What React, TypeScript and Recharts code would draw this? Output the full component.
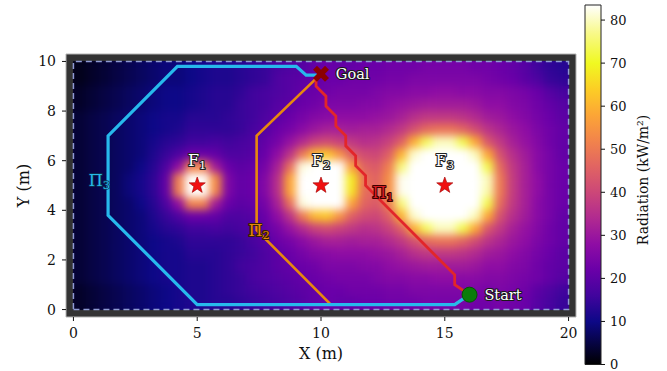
import { ScatterChart, Scatter, XAxis, YAxis, CartesianGrid, ReferenceArea } from 'recharts';

const FONT = '"DejaVu Serif", serif';

// centres of the radiation grid cells (m)
const xCells = [0.25, 0.75, 1.25, 1.75, 2.25, 2.75, 3.25, 3.75, 4.25, 4.75, 5.25, 5.75, 6.25, 6.75, 7.25, 7.75, 8.25, 8.75, 9.25, 9.75, 10.25, 10.75, 11.25, 11.75, 12.25, 12.75, 13.25, 13.75, 14.25, 14.75, 15.25, 15.75, 16.25, 16.75, 17.25, 17.75, 18.25, 18.75, 19.25, 19.75];
const yCells = [9.75, 9.25, 8.75, 8.25, 7.75, 7.25, 6.75, 6.25, 5.75, 5.25, 4.75, 4.25, 3.75, 3.25, 2.75, 2.25, 1.75, 1.25, 0.75, 0.25];

// radiation (kW/m2), one row per yCells entry
const radiation = [
  [2, 3, 4, 5, 6, 7, 8, 9, 9, 10, 11, 12, 12, 13, 14, 15, 17, 18, 19, 21, 22, 21, 21, 22, 22, 23, 23, 23, 24, 24, 24, 24, 23, 23, 22, 21, 19, 16, 14, 13],
  [2, 3, 4, 5, 6, 7, 8, 9, 9, 10, 11, 12, 12, 13, 14, 15, 18, 19, 20, 21, 22, 22, 23, 23, 23, 24, 24, 25, 25, 25, 25, 25, 25, 24, 23, 22, 20, 18, 15, 14],
  [3, 4, 5, 6, 7, 8, 9, 10, 10, 11, 12, 13, 13, 14, 16, 17, 18, 19, 21, 22, 23, 24, 24, 24, 25, 26, 26, 27, 27, 28, 28, 27, 27, 26, 26, 25, 24, 22, 19, 17],
  [3, 4, 5, 6, 7, 8, 9, 10, 10, 11, 12, 13, 13, 15, 16, 17, 19, 20, 22, 23, 25, 25, 25, 26, 26, 28, 29, 30, 31, 31, 31, 31, 30, 28, 28, 26, 25, 23, 21, 19],
  [4, 5, 6, 7, 8, 9, 10, 11, 11, 13, 13, 13, 14, 15, 16, 18, 20, 22, 24, 26, 27, 28, 28, 28, 29, 30, 32, 35, 37, 37, 37, 36, 34, 31, 30, 28, 26, 24, 22, 20],
  [4, 5, 6, 7, 8, 9, 10, 11, 12, 14, 14, 14, 14, 15, 17, 19, 22, 24, 27, 30, 32, 32, 31, 32, 32, 34, 37, 42, 47, 49, 49, 46, 41, 36, 33, 30, 28, 25, 23, 21],
  [4, 5, 6, 7, 8, 9, 11, 13, 14, 16, 16, 17, 16, 17, 18, 21, 24, 29, 34, 39, 41, 39, 37, 35, 36, 39, 45, 59, 74, 80, 80, 73, 58, 43, 37, 32, 29, 26, 23, 21],
  [4, 5, 6, 7, 8, 9, 12, 15, 18, 22, 22, 21, 18, 18, 19, 22, 28, 36, 50, 61, 63, 55, 45, 41, 40, 45, 60, 81, 97, 96, 96, 96, 80, 58, 42, 35, 31, 27, 24, 21],
  [4, 5, 6, 7, 8, 10, 13, 18, 28, 52, 52, 31, 22, 20, 21, 24, 32, 48, 82, 97, 99, 87, 57, 46, 44, 51, 76, 98, 97, 96, 96, 96, 96, 73, 47, 37, 32, 27, 24, 22],
  [4, 5, 6, 7, 9, 11, 14, 21, 51, 92, 93, 54, 25, 21, 22, 26, 35, 58, 95, 97, 99, 100, 68, 49, 46, 54, 83, 98, 97, 97, 96, 96, 96, 80, 50, 38, 32, 28, 24, 22],
  [4, 5, 6, 7, 9, 11, 14, 21, 51, 93, 92, 53, 25, 21, 22, 26, 35, 58, 95, 97, 99, 99, 67, 48, 46, 54, 83, 98, 97, 97, 96, 96, 96, 79, 50, 38, 32, 28, 24, 22],
  [4, 5, 6, 7, 8, 10, 13, 18, 28, 52, 52, 31, 22, 20, 21, 24, 32, 48, 82, 97, 99, 87, 57, 46, 44, 51, 76, 98, 97, 96, 96, 96, 96, 73, 47, 37, 32, 27, 24, 22],
  [4, 5, 6, 7, 8, 9, 12, 15, 18, 22, 22, 21, 18, 18, 19, 22, 28, 36, 50, 61, 63, 55, 45, 41, 40, 45, 60, 81, 97, 96, 96, 96, 80, 58, 42, 35, 31, 27, 24, 21],
  [4, 5, 6, 7, 8, 9, 11, 13, 14, 16, 16, 17, 16, 17, 18, 21, 24, 29, 34, 39, 41, 39, 37, 35, 36, 39, 45, 59, 74, 80, 80, 73, 58, 43, 37, 32, 29, 26, 23, 21],
  [4, 5, 6, 7, 8, 9, 10, 11, 12, 14, 14, 14, 14, 15, 17, 19, 22, 24, 27, 30, 32, 32, 31, 32, 32, 34, 37, 42, 47, 49, 49, 46, 41, 36, 33, 30, 28, 25, 23, 21],
  [4, 5, 6, 7, 8, 9, 10, 11, 11, 13, 13, 13, 14, 15, 16, 18, 20, 22, 24, 26, 27, 28, 28, 28, 29, 30, 32, 35, 37, 37, 37, 36, 34, 31, 30, 28, 26, 24, 22, 20],
  [4, 5, 6, 7, 8, 9, 10, 11, 11, 12, 12, 13, 14, 16, 17, 18, 20, 21, 22, 23, 25, 25, 25, 26, 26, 28, 29, 30, 31, 31, 31, 31, 30, 28, 28, 26, 25, 23, 21, 20],
  [4, 5, 6, 7, 8, 9, 10, 11, 11, 12, 12, 13, 14, 15, 17, 18, 19, 20, 21, 22, 23, 24, 24, 24, 25, 26, 26, 27, 27, 28, 28, 27, 27, 26, 26, 25, 24, 23, 21, 19],
  [3, 4, 5, 6, 7, 8, 9, 10, 11, 12, 12, 13, 14, 15, 16, 17, 18, 19, 20, 21, 22, 22, 23, 23, 23, 24, 24, 25, 25, 25, 25, 25, 25, 24, 25, 24, 23, 20, 18, 16],
  [3, 4, 5, 6, 7, 8, 9, 10, 11, 12, 12, 13, 13, 14, 15, 16, 17, 18, 19, 21, 22, 21, 21, 22, 22, 23, 23, 23, 24, 24, 24, 24, 23, 23, 24, 23, 22, 19, 17, 15],
];

const fires = [{ x: 5, y: 5 }, { x: 10, y: 5 }, { x: 15, y: 5 }];
const fireLabels = [
  { x: 5, y: 6.0, name: 'F', sub: '1' },
  { x: 10, y: 6.0, name: 'F', sub: '2' },
  { x: 15, y: 6.0, name: 'F', sub: '3' },
];
const goal = [{ x: 10, y: 9.5 }];
const start = [{ x: 16, y: 0.6 }];
const goalLabel = [{ x: 10.6, y: 9.5, name: 'Goal' }];
const startLabel = [{ x: 16.6, y: 0.58, name: 'Start' }];

// planned paths
const path1 = [
  { x: 10, y: 9.5 }, { x: 9.8, y: 9.3 }, { x: 9.8, y: 9.0 }, { x: 10.2, y: 8.6 }, { x: 10.2, y: 8.2 },
  { x: 10.6, y: 7.8 }, { x: 10.6, y: 7.4 }, { x: 11.0, y: 7.0 }, { x: 11.0, y: 6.6 }, { x: 11.4, y: 6.2 },
  { x: 11.4, y: 5.8 }, { x: 11.8, y: 5.4 }, { x: 11.8, y: 5.0 }, { x: 15.4, y: 1.4 }, { x: 15.4, y: 1.0 },
  { x: 16, y: 0.6 },
];
const path2 = [
  { x: 10, y: 9.5 }, { x: 7.4, y: 7.0 }, { x: 7.4, y: 3.2 }, { x: 10.4, y: 0.2 }, { x: 15.4, y: 0.2 }, { x: 16, y: 0.6 },
];
const path3 = [
  { x: 16, y: 0.6 }, { x: 15.4, y: 0.2 }, { x: 5.0, y: 0.2 }, { x: 1.4, y: 3.8 }, { x: 1.4, y: 7.0 },
  { x: 4.2, y: 9.8 }, { x: 9.0, y: 9.8 }, { x: 9.4, y: 9.45 }, { x: 10, y: 9.45 },
];
const pathLabels1 = [{ x: 12.5, y: 4.7, name: 'Π', sub: '1' }];
const pathLabels2 = [{ x: 7.5, y: 3.2, name: 'Π', sub: '2' }];
const pathLabels3 = [{ x: 1.05, y: 5.2, name: 'Π', sub: '3' }];
const boundary = [{ x: 0, y: 0 }, { x: 20, y: 0 }, { x: 20, y: 10 }, { x: 0, y: 10 }, { x: 0, y: 0 }];

const xTicks = [0, 5, 10, 15, 20];
const yTicks = [0, 2, 4, 6, 8, 10];
const cbarTicks = [0, 10, 20, 30, 40, 50, 60, 70, 80];
const cbarMax = 83.5;

// black -> plasma -> white
const cmapValues = [0, 10, 16, 22, 28, 34, 40, 46, 52, 58, 64, 70, 77, 84];
const cmapColors = ['#000000', '#0d0887', '#41049d', '#6a00a8', '#8f0da4', '#b12a90', '#cc4778', '#e16462', '#f2844b', '#fca636', '#fcce25', '#f0f921', '#f8f98a', '#ffffff'];

const X_DOMAIN: [number, number] = [-0.3, 20.3];
const Y_DOMAIN: [number, number] = [-0.3, 10.3];
const PLOT_W = 510;
const PLOT_H = 263;
const CELL = 0.5;

const heatCells = radiation.flatMap((row, r) => row.map((v, c) => ({ x: xCells[c], y: yCells[r], v })));

const hex = (h: string) => [1, 3, 5].map((i) => parseInt(h.slice(i, i + 2), 16));
function colorOf(v: number) {
  if (v <= cmapValues[0]) return cmapColors[0];
  for (let i = 1; i < cmapValues.length; i++) {
    if (v <= cmapValues[i]) {
      const t = (v - cmapValues[i - 1]) / (cmapValues[i] - cmapValues[i - 1]);
      const a = hex(cmapColors[i - 1]);
      const b = hex(cmapColors[i]);
      const m = a.map((c, k) => Math.round(c + (b[k] - c) * t));
      return `rgb(${m[0]},${m[1]},${m[2]})`;
    }
  }
  return cmapColors[cmapColors.length - 1];
}

const HeatCell = (p: any) => {
  const w = (CELL * PLOT_W) / (X_DOMAIN[1] - X_DOMAIN[0]) + 0.6;
  const h = (CELL * PLOT_H) / (Y_DOMAIN[1] - Y_DOMAIN[0]) + 0.6;
  return <rect x={p.cx - w / 2} y={p.cy - h / 2} width={w} height={h} fill={colorOf(p.payload.v)} />;
};

const Nothing = () => <g />;

const Star = (p: any) => {
  const pts: string[] = [];
  for (let i = 0; i < 10; i++) {
    const r = i % 2 === 0 ? 8.5 : 3.5;
    const a = (Math.PI / 5) * i - Math.PI / 2;
    pts.push(`${p.cx + r * Math.cos(a)},${p.cy + r * Math.sin(a)}`);
  }
  return <polygon points={pts.join(' ')} fill="#f01010" stroke="#a00000" strokeWidth={0.6} />;
};

const Cross = (p: any) => (
  <g transform={`translate(${p.cx},${p.cy}) rotate(45)`} fill="#8b0000">
    <rect x={-8.5} y={-2.8} width={17} height={5.6} />
    <rect x={-2.8} y={-8.5} width={5.6} height={17} />
  </g>
);

const Dot = (p: any) => <circle cx={p.cx} cy={p.cy} r={7.5} fill="#0a7d0a" stroke="#055205" strokeWidth={1} />;

const outlined = (fill: string, stroke: string, size: number, anchor: string, sw = 2.4) => (p: any) => (
  <text
    x={p.cx}
    y={p.cy}
    fill={fill}
    stroke={stroke}
    strokeWidth={sw}
    strokeLinejoin="round"
    paintOrder="stroke"
    fontFamily={FONT}
    fontSize={size}
    textAnchor={anchor}
    dominantBaseline="central"
  >
    {p.payload.name}
    {p.payload.sub && (
      <tspan fontSize={size * 0.72} dy={size * 0.28}>
        {p.payload.sub}
      </tspan>
    )}
  </text>
);

const tickStyle = { fill: '#111', fontSize: 14, fontFamily: FONT };

export default function App() {
  const gradStops = [...cmapValues].reverse().map((v, i) => ({
    off: 1 - Math.min(v, cbarMax) / cbarMax,
    col: cmapColors[cmapColors.length - 1 - i],
  }));

  return (
    <div style={{ position: 'absolute', left: 0, top: 0, width: 667, height: 371, background: '#fff' }}>
      <style>{`.heat-smooth { filter: url(#heatSmooth); }`}</style>
      <svg width={0} height={0} style={{ position: 'absolute' }}>
        <defs>
          <filter id="heatSmooth" x="0" y="0" width="1" height="1" colorInterpolationFilters="sRGB">
            <feGaussianBlur stdDeviation="4" edgeMode="duplicate" />
          </filter>
          <linearGradient id="cbarGrad" x1="0" y1="0" x2="0" y2="1">
            {gradStops.map((s, i) => (
              <stop key={i} offset={s.off} stopColor={s.col} />
            ))}
          </linearGradient>
        </defs>
      </svg>

      <div style={{ position: 'absolute', left: 0, top: 0 }}>
        <ScatterChart width={667} height={371} margin={{ top: 54, right: 91, bottom: 4, left: 0 }}>
          <CartesianGrid horizontal={false} vertical={false} fill="#333333" />
          <ReferenceArea x1={X_DOMAIN[0]} x2={X_DOMAIN[1]} y1={Y_DOMAIN[0]} y2={Y_DOMAIN[1]} fill="none" stroke="#b4b4b4" strokeWidth={1} />
          <XAxis
            type="number"
            dataKey="x"
            domain={X_DOMAIN}
            allowDataOverflow
            ticks={xTicks}
            interval={0}
            height={50}
            tick={tickStyle}
            tickSize={4}
            tickMargin={7}
            tickLine={{ stroke: '#111' }}
            axisLine={false}
            label={(p: any) => (
              <text x={p.viewBox.x + p.viewBox.width / 2} y={p.viewBox.y + 42} textAnchor="middle" fontFamily={FONT} fontSize={16} fill="#111">
                X (m)
              </text>
            )}
          />
          <YAxis
            type="number"
            dataKey="y"
            domain={Y_DOMAIN}
            allowDataOverflow
            ticks={yTicks}
            interval={0}
            width={66}
            tick={tickStyle}
            tickSize={4}
            tickMargin={6}
            tickLine={{ stroke: '#111' }}
            axisLine={false}
            label={(p: any) => {
              const cx = p.viewBox.x + 29;
              const cy = p.viewBox.y + p.viewBox.height / 2;
              return (
                <text x={cx} y={cy} transform={`rotate(-90 ${cx} ${cy})`} textAnchor="middle" fontFamily={FONT} fontSize={16} fill="#111">
                  Y (m)
                </text>
              );
            }}
          />
          <Scatter data={heatCells} shape={HeatCell} isAnimationActive={false} />
          <Scatter data={heatCells} shape={HeatCell} className="heat-smooth" isAnimationActive={false} />
          <Scatter data={boundary} shape={Nothing} line={{ stroke: '#8f9ad4', strokeWidth: 1.5, strokeDasharray: '6 4' }} isAnimationActive={false} />
          <Scatter data={path2} shape={Nothing} line={{ stroke: '#e8870e', strokeWidth: 2.6 }} isAnimationActive={false} />
          <Scatter data={path1} shape={Nothing} line={{ stroke: '#e2262a', strokeWidth: 2.8 }} isAnimationActive={false} />
          <Scatter data={path3} shape={Nothing} line={{ stroke: '#27b9ec', strokeWidth: 3.2 }} isAnimationActive={false} />
          <Scatter data={fires} shape={Star} isAnimationActive={false} />
          <Scatter data={goal} shape={Cross} isAnimationActive={false} />
          <Scatter data={start} shape={Dot} isAnimationActive={false} />
          <Scatter data={fireLabels} shape={outlined('#ffffff', '#222222', 16, 'middle', 2.2)} isAnimationActive={false} />
          <Scatter data={goalLabel} shape={outlined('#ffffff', '#1a1a1a', 14.5, 'start', 2.2)} isAnimationActive={false} />
          <Scatter data={startLabel} shape={outlined('#ffffff', '#1a1a1a', 14.5, 'start', 2.2)} isAnimationActive={false} />
          <Scatter data={pathLabels1} shape={outlined('#d81e22', '#3a0000', 16, 'middle', 2.2)} isAnimationActive={false} />
          <Scatter data={pathLabels2} shape={outlined('#e8870e', '#3a2000', 16, 'middle', 2.2)} isAnimationActive={false} />
          <Scatter data={pathLabels3} shape={outlined('#27b9ec', '#0a3550', 16, 'middle', 1.6)} isAnimationActive={false} />
        </ScatterChart>
      </div>

      <div style={{ position: 'absolute', left: 570, top: 0 }}>
        <ScatterChart width={97} height={371} margin={{ top: 5, right: 0, bottom: 6.5, left: 15 }}>
          <XAxis type="number" dataKey="x" domain={[0, 1]} hide />
          <YAxis
            type="number"
            dataKey="y"
            orientation="right"
            domain={[0, cbarMax]}
            allowDataOverflow
            ticks={cbarTicks}
            interval={0}
            width={66}
            tick={{ fill: '#111', fontSize: 13, fontFamily: FONT }}
            tickSize={4}
            tickMargin={5}
            tickLine={{ stroke: '#111' }}
            axisLine={false}
            label={(p: any) => {
              const cx = p.viewBox.x + 47;
              const cy = 180;
              return (
                <text x={cx} y={cy} transform={`rotate(-90 ${cx} ${cy})`} textAnchor="middle" fontFamily={FONT} fontSize={14} fill="#111">
                  Radiation (kW/m²)
                </text>
              );
            }}
          />
          <ReferenceArea x1={0} x2={1} y1={0} y2={cbarMax} fill="url(#cbarGrad)" fillOpacity={1} stroke="#222" strokeWidth={1} />
          <Scatter data={[{ x: 0, y: 0 }, { x: 1, y: cbarMax }]} shape={Nothing} isAnimationActive={false} />
        </ScatterChart>
      </div>
    </div>
  );
}
